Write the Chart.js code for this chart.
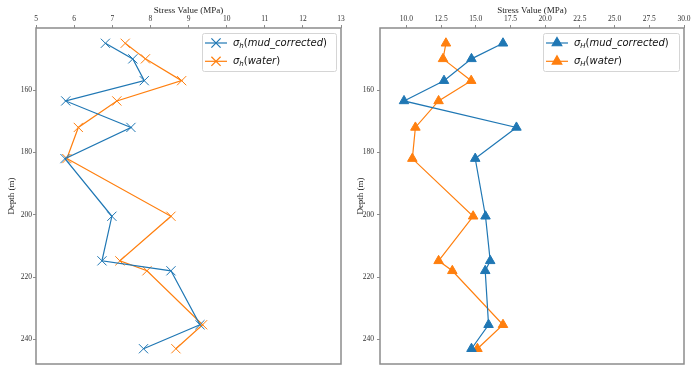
<!DOCTYPE html>
<html>
<head>
<meta charset="utf-8">
<script src="https://cdn.jsdelivr.net/npm/chart.js@4.4.0/dist/chart.umd.min.js"></script>
<style>
  body { margin: 0; background: #fff; }
  canvas { position: absolute; top: 0; }
</style>
</head>
<body>
<canvas id="shChart" width="349" height="373" style="left:0"></canvas>
<canvas id="sHChart" width="350" height="373" style="left:349px"></canvas>
<script>
// depths (m) shared by all four series
const depth = [145, 150, 157, 163.5, 172, 182, 200.5, 214.8, 218, 235.3, 243];

// minimum horizontal stress (MPa)
const shMud = [6.82, 7.54, 7.84, 5.78, 7.49, 5.76, 6.99, 6.73, 8.54, 9.30, 7.82];
const shWater = [7.34, 7.87, 8.82, 7.12, 6.11, 5.81, 8.54, 7.20, 7.91, 9.37, 8.67];

// maximum horizontal stress (MPa)
const sHMud = [16.96, 14.69, 12.71, 9.83, 17.93, 14.96, 15.70, 16.04, 15.68, 15.92, 14.69];
const sHWater = [12.85, 12.64, 14.67, 12.32, 10.65, 10.43, 14.81, 12.32, 13.31, 16.96, 15.12];

const depthTicks = [160, 180, 200, 220, 240];
const shTicks = [5, 6, 7, 8, 9, 10, 11, 12, 13];
const sHTicks = [10, 12.5, 15, 17.5, 20, 22.5, 25, 27.5, 30];

const blue = '#1f77b4';
const orange = '#ff7f0e';
const spine = '#8c8c8c';
const serif = 'Liberation Serif';

const pts = vals => depth.map((d, i) => ({ x: vals[i], y: d }));

const framePlugin = {
    id: 'frame',
    afterDraw(chart, args, opts) {
        const c = chart.ctx, a = chart.chartArea;
        c.save();
        c.strokeStyle = spine;
        c.lineWidth = 1.5;
        c.strokeRect(a.left, a.top, a.right - a.left, a.bottom - a.top);

        // legend with subscripted sigma
        const boxW = opts.boxWidth, h = 38;
        const x0 = a.right - 5 - boxW, y0 = a.top + 5;
        c.fillStyle = 'rgba(255,255,255,0.85)';
        c.strokeStyle = '#d5d5d5';
        c.lineWidth = 1;
        c.beginPath();
        c.roundRect(x0 + 0.5, y0 + 0.5, boxW, h, 2);
        c.fill();
        c.stroke();
        opts.entries.forEach((e, i) => {
            const y = y0 + 10 + i * 18.3;
            c.strokeStyle = e.color;
            c.fillStyle = e.color;
            c.lineWidth = 1.2;
            c.beginPath();
            c.moveTo(x0 + 3, y);
            c.lineTo(x0 + 25, y);
            c.stroke();
            Chart.helpers.drawPoint(c, { pointStyle: e.style, radius: e.radius, borderWidth: 1, rotation: 0 }, x0 + 14, y);

            let tx = x0 + 31;
            c.fillStyle = '#111';
            c.textBaseline = 'middle';
            const parts = [
                ['σ', 'italic 10px "DejaVu Sans"', 0],
                [e.sub, 'italic 7px "DejaVu Sans"', 3],
                ['(', '10px "DejaVu Sans"', 0],
                [e.name, 'italic 10px "DejaVu Sans"', 0],
                [')', '10px "DejaVu Sans"', 0]
            ];
            parts.forEach(([t, f, dy]) => {
                c.font = f;
                c.fillText(t, tx, y + dy);
                tx += c.measureText(t).width;
            });
        });
        c.restore();
    }
};

function stressChart(id, xMin, xMax, xTicks, fmt, mud, water, style, radius, sub, yWidth, rightPad, tickPad, boxWidth) {
    const ds = (label, vals, color) => ({
        label: label,
        data: pts(vals),
        showLine: true,
        borderColor: color,
        backgroundColor: color,
        borderWidth: 1.2,
        pointStyle: style,
        pointRadius: radius,
        pointHoverRadius: radius,
        pointBorderWidth: 1,
        tension: 0
    });
    return new Chart(document.getElementById(id).getContext('2d'), {
        type: 'scatter',
        data: {
            datasets: [
                ds('mud_corrected', mud, blue),
                ds('water', water, orange)
            ]
        },
        options: {
            responsive: false,
            animation: false,
            devicePixelRatio: 1,
            layout: { autoPadding: false, padding: { left: 0, top: 0, right: rightPad, bottom: 9 } },
            plugins: {
                legend: { display: false },
                tooltip: { enabled: false },
                frame: {
                    boxWidth: boxWidth,
                    entries: [
                        { color: blue, style: style, radius: radius, sub: sub, name: 'mud_corrected' },
                        { color: orange, style: style, radius: radius, sub: sub, name: 'water' }
                    ]
                }
            },
            scales: {
                x: {
                    type: 'linear',
                    position: 'top',
                    min: xMin,
                    max: xMax,
                    afterBuildTicks: s => { s.ticks = xTicks.map(v => ({ value: v })); },
                    afterFit: s => { s.height = 28; },
                    grid: { drawOnChartArea: false, tickLength: 3, color: spine },
                    border: { display: false },
                    ticks: {
                        autoSkip: false, maxRotation: 0, padding: 1, color: '#333',
                        font: { family: serif, size: 7.5 },
                        callback: fmt
                    },
                    title: {
                        display: true, text: 'Stress Value (MPa)', color: '#222',
                        font: { family: serif, size: 9 }, padding: { top: 5, bottom: 0 }
                    }
                },
                y: {
                    type: 'linear',
                    reverse: true,
                    min: 140.1,
                    max: 247.9,
                    afterBuildTicks: s => { s.ticks = depthTicks.map(v => ({ value: v })); },
                    afterFit: s => { s.width = yWidth; },
                    grid: { drawOnChartArea: false, tickLength: 3, color: spine },
                    border: { display: false },
                    ticks: { padding: tickPad, color: '#333', font: { family: serif, size: 7.5 } },
                    title: {
                        display: true, text: 'Depth (m)', color: '#222',
                        font: { family: serif, size: 9 }, padding: { top: 6, bottom: 0 }
                    }
                }
            }
        },
        plugins: [framePlugin]
    });
}

stressChart('shChart', 5, 13, shTicks, v => String(v), shMud, shWater, 'crossRot', 6.5, 'h', 36, 8, 1, 134);
stressChart('sHChart', 8.1, 30, sHTicks, v => v.toFixed(1), sHMud, sHWater, 'triangle', 5.5, 'H', 31, 15, 3, 136);
</script>
</body>
</html>
